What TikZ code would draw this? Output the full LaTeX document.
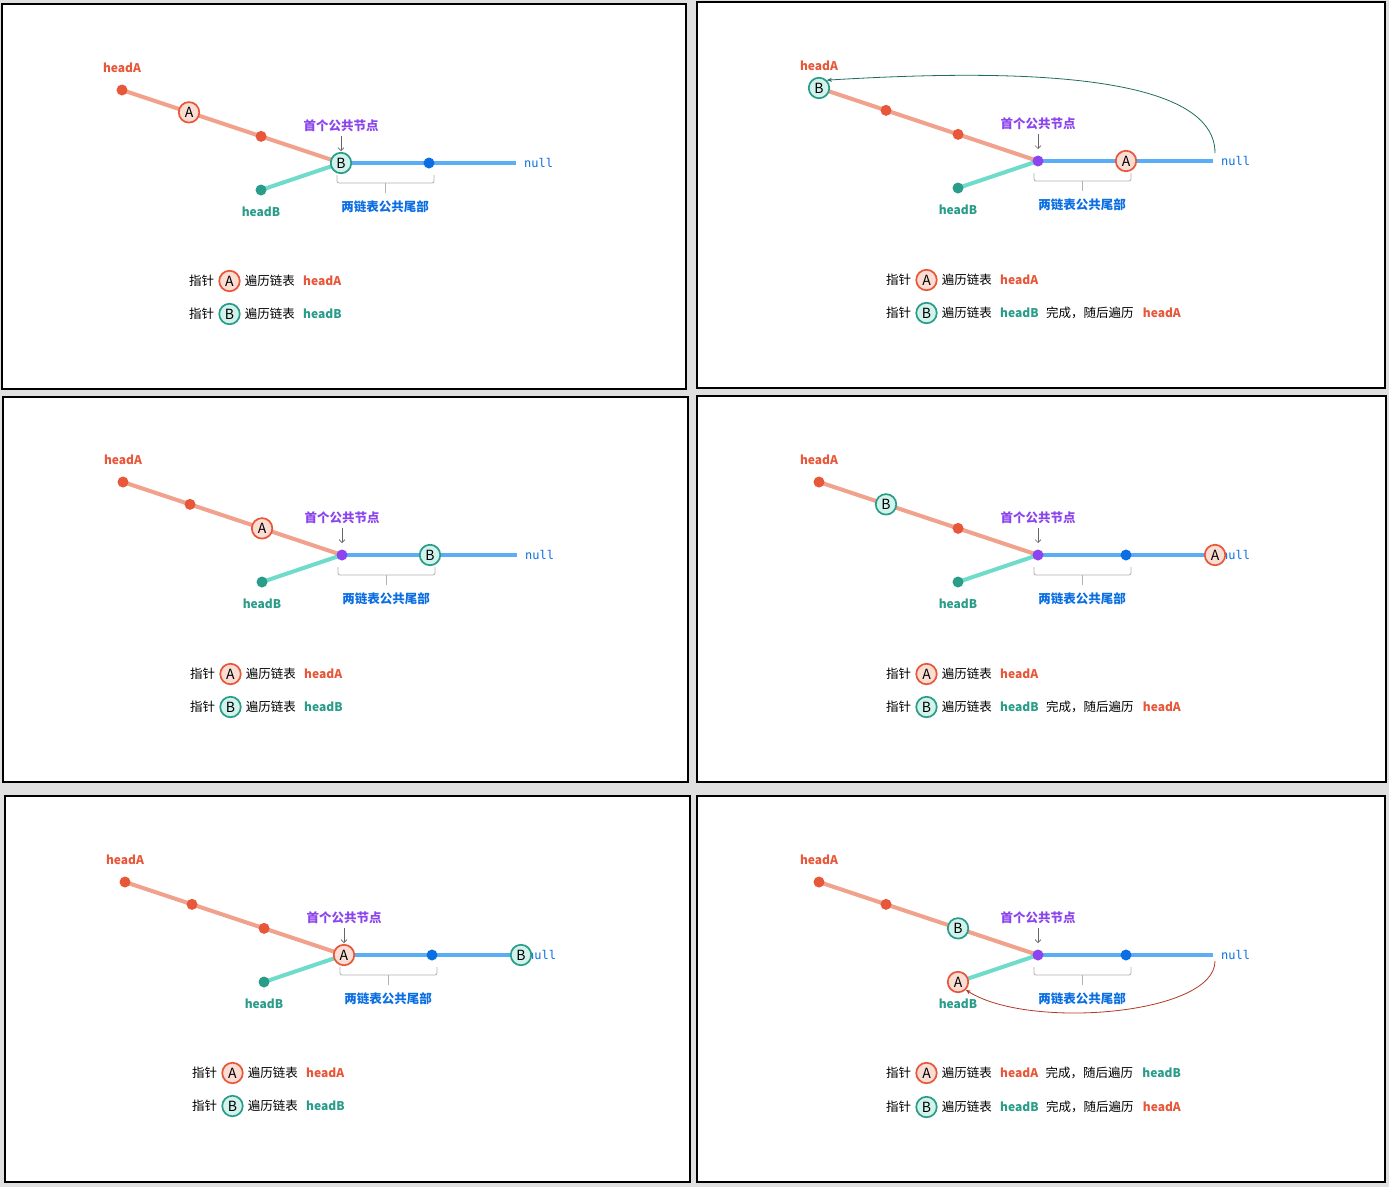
\documentclass[tikz,border=0pt]{standalone}
\usepackage{fontspec}
\setmainfont{Noto Sans CJK SC}
\setmonofont{DejaVu Sans Mono}
\usetikzlibrary{positioning,calc,arrows.meta}
\pgfdeclarelayer{panel}
\pgfdeclarelayer{background}
\pgfsetlayers{panel,background,main}
\definecolor{ared}{HTML}{E8573A}
\definecolor{aline}{HTML}{F0A28C}
\definecolor{afill}{HTML}{FBDDD4}
\definecolor{bteal}{HTML}{2A9C8A}
\definecolor{bline}{HTML}{6FDBCB}
\definecolor{bfill}{HTML}{D2F3EC}
\definecolor{cblue}{HTML}{0B6FE3}
\definecolor{cline}{HTML}{5AAEF7}
\definecolor{xpurple}{HTML}{8C45EE}
\definecolor{aback}{HTML}{B23A24}
\definecolor{bback}{HTML}{1E6E60}

\newcommand{\baselists}[1]{%
  \node[dotA] (#1-ha) at (-219,-73) {};
  \node[dotX] (#1-x) at (0,0) {};
  \node[dotA] (#1-n2) at ($(#1-ha)!.306!(#1-x)$) {};
  \node[dotA] (#1-n3) at ($(#1-ha)!.635!(#1-x)$) {};
  \node[dotC] (#1-n5) at (88,0) {};
  \node[dotB] (#1-hb) at (-80,27) {};
  \coordinate (#1-end) at (175,0);
  \begin{pgfonlayer}{background}
    \draw[lineA] (#1-ha.center) -- (#1-x.center);
    \draw[lineB] (#1-hb.center) -- (#1-x.center);
    \draw[lineC] (#1-x.center) -- (#1-end);
  \end{pgfonlayer}
  \node[headA] (#1-lha) at (-219,-95) {headA};
  \node[headB] (#1-lhb) at (-80,49) {headB};
  \node[nulltxt, anchor=west] (#1-null) at (183,0) {null};
  \node[firsttxt] (#1-first) at (0,-37) {首个公共节点};
  \coordinate (#1-xtop) at (0,-12);
  \draw[pointer] ([yshift=-5pt]#1-first.south) -- (#1-xtop);
  \coordinate (#1-bl) at (-4,12);
  \coordinate (#1-br) at (93,12);
  \draw[brace] (#1-bl) -- ++(0,8) -| (#1-br);
  \draw[brace] ($(#1-bl)!.5!(#1-br)+(0,8)$) -- ++(0,10);
  \node[tailtxt] (#1-tail) at (44,44) {两链表公共尾部};
}
\newcommand{\walkrow}[4]{%
  \node[txt, anchor=west] (#1) at (-152,#2) {指针};
  \node[ptr#3, right=4pt of #1] (#1-ptr) {#3};
  \node[txt, right=4pt of #1-ptr] (#1-walk) {遍历链表};
  \node[head#4, right=8pt of #1-walk] (#1-head) {head#4};
}
\newcommand{\thenrow}[2]{%
  \node[txt, right=7pt of #1-head] (#1-done) {完成，随后遍历};
  \node[head#2, right=9pt of #1-done] (#1-next) {head#2};
}

\begin{document}
\begin{tikzpicture}[x=1pt, y=-1pt,
  panelbox/.style={fill=white, draw=black, line width=1.2pt},
  dotA/.style={circle, fill=ared, minimum size=11pt, inner sep=0},
  dotB/.style={circle, fill=bteal, minimum size=11pt, inner sep=0},
  dotC/.style={circle, fill=cblue, minimum size=11pt, inner sep=0},
  dotX/.style={circle, fill=xpurple, minimum size=11pt, inner sep=0},
  lineA/.style={aline, line width=4pt},
  lineB/.style={bline, line width=4pt},
  lineC/.style={cline, line width=4pt},
  ptrA/.style={circle, draw=ared, fill=afill, line width=1.7pt, minimum size=20.5pt, inner sep=0, font=\fontsize{14pt}{14pt}\selectfont},
  ptrB/.style={circle, draw=bteal, fill=bfill, line width=1.7pt, minimum size=20.5pt, inner sep=0, font=\fontsize{14pt}{14pt}\selectfont},
  txt/.style={inner sep=0, text height=10pt, text depth=.5pt, font=\fontsize{12.5pt}{15pt}\selectfont},
  headA/.style={txt, text=ared, font=\fontsize{12pt}{15pt}\selectfont\bfseries},
  headB/.style={txt, text=bteal, font=\fontsize{12pt}{15pt}\selectfont\bfseries},
  nulltxt/.style={txt, text=cblue, font=\fontsize{12pt}{15pt}\selectfont\ttfamily},
  firsttxt/.style={txt, text=xpurple, font=\fontsize{12.5pt}{15pt}\selectfont\bfseries},
  tailtxt/.style={txt, text=cblue, font=\fontsize{12.5pt}{15pt}\selectfont\bfseries},
  pointer/.style={black!60, line width=.6pt, -{Straight Barb[length=3pt,width=6pt]}},
  brace/.style={black!30, line width=.8pt, rounded corners=2pt},
  backA/.style={aback, line width=.8pt, -{Stealth[length=5pt,width=4pt]}},
  backB/.style={bback, line width=.8pt, -{Stealth[length=5pt,width=4pt]}}]
\useasboundingbox (0,0) rectangle (1389,1187);
\begin{pgfonlayer}{panel}
  \fill[black!12] (0,0) rectangle (1389,1187);
  \foreach \l/\t/\r/\b in {2/4/686/389, 697/2/1385/388, 3/397/688/782, 697/396/1386/782, 5/796/690/1182, 697/796/1385/1182}
    \draw[panelbox] (\l,\t) rectangle (\r,\b);
\end{pgfonlayer}

% step 1
\begin{scope}[shift={(341,163)}]
  \baselists{p1}
  \node[ptrA] (p1-A) at (p1-n2) {A};
  \node[ptrB] (p1-B) at (p1-x) {B};
  \walkrow{p1-r1}{118}{A}{A}
  \walkrow{p1-r2}{151}{B}{B}
\end{scope}

% step 2
\begin{scope}[shift={(1038,161)}]
  \baselists{p2}
  \node[ptrB] (p2-B) at (p2-ha) {B};
  \node[ptrA] (p2-A) at (p2-n5) {A};
  \draw[backB] ([xshift=2pt,yshift=8pt]p2-end) .. controls (177,-95) and (-60,-90) .. (p2-B.45);
  \walkrow{p2-r1}{119}{A}{A}
  \walkrow{p2-r2}{152}{B}{B}
  \thenrow{p2-r2}{A}
\end{scope}

% step 3
\begin{scope}[shift={(342,555)}]
  \baselists{p3}
  \node[ptrA] (p3-A) at (p3-n3) {A};
  \node[ptrB] (p3-B) at (p3-n5) {B};
  \walkrow{p3-r1}{119}{A}{A}
  \walkrow{p3-r2}{152}{B}{B}
\end{scope}

% step 4
\begin{scope}[shift={(1038,555)}]
  \baselists{p4}
  \node[ptrB] (p4-B) at (p4-n2) {B};
  \node[ptrA] (p4-A) at ([xshift=2pt]p4-end) {A};
  \walkrow{p4-r1}{119}{A}{A}
  \walkrow{p4-r2}{152}{B}{B}
  \thenrow{p4-r2}{A}
\end{scope}

% step 5
\begin{scope}[shift={(344,955)}]
  \baselists{p5}
  \node[ptrA] (p5-A) at (p5-x) {A};
  \node[ptrB] (p5-B) at ([xshift=2pt]p5-end) {B};
  \walkrow{p5-r1}{118}{A}{A}
  \walkrow{p5-r2}{151}{B}{B}
\end{scope}

% step 6
\begin{scope}[shift={(1038,955)}]
  \baselists{p6}
  \node[ptrB] (p6-B) at (p6-n3) {B};
  \node[ptrA] (p6-A) at (p6-hb) {A};
  \draw[backA] ([xshift=2pt,yshift=-6pt]p6-end) .. controls (177,60) and (-10,75) .. (p6-A.-45);
  \walkrow{p6-r1}{118}{A}{A}
  \thenrow{p6-r1}{B}
  \walkrow{p6-r2}{152}{B}{B}
  \thenrow{p6-r2}{A}
\end{scope}
\end{tikzpicture}
\end{document}
